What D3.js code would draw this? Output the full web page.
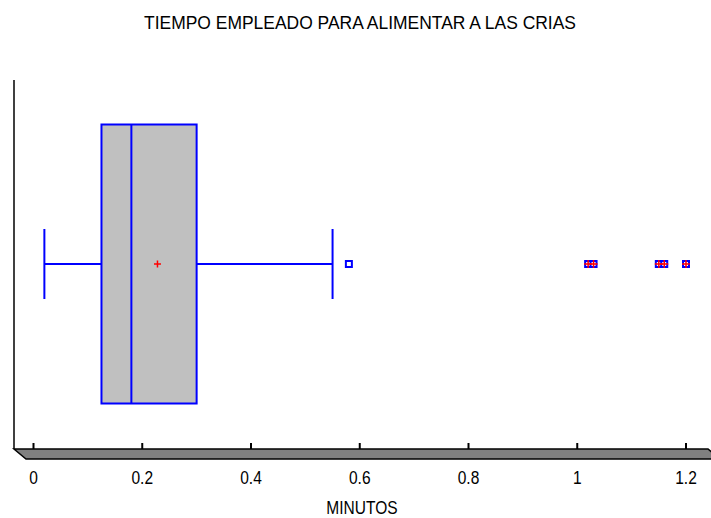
<!DOCTYPE html>
<html>
<head>
<meta charset="utf-8">
<script src="https://cdn.jsdelivr.net/npm/d3@7"></script>
<style>
  html, body { margin: 0; padding: 0; background: #fff; }
  svg { display: block; }
  text { font-family: "Liberation Sans Narrow", "Arial Narrow", "Liberation Sans", Arial, sans-serif; fill: #000; }
</style>
</head>
<body>
<svg id="chart" width="711" height="518"></svg>
<script>
// ---- data ----
const title = "TIEMPO EMPLEADO PARA ALIMENTAR A LAS CRIAS";
const xLabel = "MINUTOS";
const tickValues = [0, 0.2, 0.4, 0.6, 0.8, 1, 1.2];
const tickLabels = ["0", "0.2", "0.4", "0.6", "0.8", "1", "1.2"];
const boxStats = { whiskerLow: 0.02, q1: 0.125, median: 0.18, q3: 0.30, whiskerHigh: 0.55, mean: 0.228 };
const mildOutliers = [0.58];
const farOutliers = [1.02, 1.03, 1.15, 1.16, 1.2];

// ---- layout ----
const svg = d3.select("#chart");
const x = d3.scaleLinear().domain([0, 1.2]).range([33.5, 686]);
const y = d3.scaleLinear().domain([0, 1]).range([448, 80]);
const yc = y(0.5);
const boxHalf = 139.5;
const capHalf = 35;
const narrow = 0.84;

function condensedText(sel, tx, ty, size, str) {
  return sel.append("text")
    .attr("transform", `translate(${tx},${ty}) scale(${narrow},1)`)
    .attr("text-anchor", "middle")
    .attr("font-size", size)
    .text(str);
}

// title
svg.append("text")
  .attr("x", 360).attr("y", 29)
  .attr("text-anchor", "middle")
  .attr("font-size", 18.5)
  .attr("textLength", 432).attr("lengthAdjust", "spacingAndGlyphs")
  .text(title);

// vertical axis line
svg.append("line")
  .attr("x1", 14).attr("x2", 14).attr("y1", 80).attr("y2", 449)
  .attr("stroke", "#000").attr("stroke-width", 1.5);

// floor (3D base)
svg.append("polygon")
  .attr("points", [[14,449],[708,449],[720,459],[26,459]].map(p => p.join(",")).join(" "))
  .attr("fill", "#808080").attr("stroke", "#000").attr("stroke-width", 1.5);

// ticks
const axisG = svg.append("g");
axisG.selectAll("line.tick").data(tickValues).enter().append("line")
  .attr("x1", d => x(d)).attr("x2", d => x(d))
  .attr("y1", 443).attr("y2", 449)
  .attr("stroke", "#000").attr("stroke-width", 2);
tickValues.forEach((d, i) => condensedText(axisG, x(d), 484, 18.5, tickLabels[i]));

condensedText(svg, 362, 514, 18.5, xLabel);

// box plot
const blue = "#0000ff";
const g = svg.append("g");
// whiskers
g.append("line").attr("x1", x(boxStats.whiskerLow)).attr("x2", x(boxStats.q1))
  .attr("y1", yc).attr("y2", yc).attr("stroke", blue).attr("stroke-width", 2);
g.append("line").attr("x1", x(boxStats.q3)).attr("x2", x(boxStats.whiskerHigh))
  .attr("y1", yc).attr("y2", yc).attr("stroke", blue).attr("stroke-width", 2);
[boxStats.whiskerLow, boxStats.whiskerHigh].forEach(v => {
  g.append("line").attr("x1", x(v)).attr("x2", x(v))
    .attr("y1", yc - capHalf).attr("y2", yc + capHalf)
    .attr("stroke", blue).attr("stroke-width", 2);
});
// box
g.append("rect")
  .attr("x", x(boxStats.q1)).attr("y", yc - boxHalf)
  .attr("width", x(boxStats.q3) - x(boxStats.q1)).attr("height", 2 * boxHalf)
  .attr("fill", "#c0c0c0").attr("stroke", blue).attr("stroke-width", 2);
// median
g.append("line").attr("x1", x(boxStats.median)).attr("x2", x(boxStats.median))
  .attr("y1", yc - boxHalf).attr("y2", yc + boxHalf)
  .attr("stroke", blue).attr("stroke-width", 2);
// mean plus
function plus(sel, cx, cy, s) {
  sel.append("line").attr("x1", cx - s).attr("x2", cx + s).attr("y1", cy).attr("y2", cy)
    .attr("stroke", "#ff0000").attr("stroke-width", 1.5);
  sel.append("line").attr("x1", cx).attr("x2", cx).attr("y1", cy - s).attr("y2", cy + s)
    .attr("stroke", "#ff0000").attr("stroke-width", 1.5);
}
plus(g, x(boxStats.mean), yc, 3.5);

// outliers
const sq = 6;
mildOutliers.concat(farOutliers).forEach(v => {
  g.append("rect").attr("x", x(v) - sq / 2).attr("y", yc - sq / 2)
    .attr("width", sq).attr("height", sq)
    .attr("fill", "#fff").attr("stroke", blue).attr("stroke-width", 2);
});
farOutliers.forEach(v => plus(g, x(v), yc, 4));
</script>
</body>
</html>
